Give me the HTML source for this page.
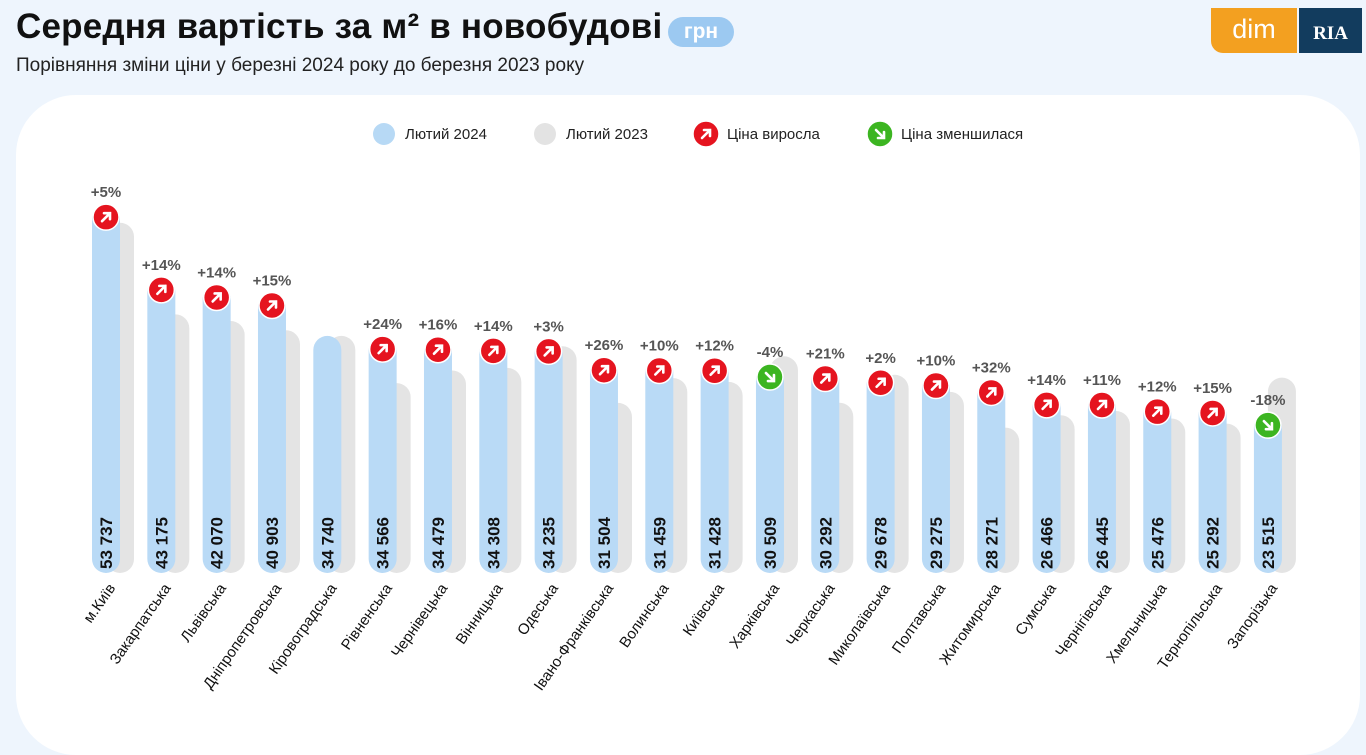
<!DOCTYPE html>
<html><head><meta charset="utf-8"><style>
body{margin:0;width:1366px;height:731px;overflow:hidden;background:#eef5fd;font-family:"Liberation Sans","DejaVu Sans",sans-serif;position:relative}
.t{position:absolute;left:16px;top:7px;font-size:35px;font-weight:bold;color:#111;letter-spacing:0.2px}
.s{position:absolute;left:16px;top:55px;font-size:19px;color:#222}
.u{position:absolute;left:668px;top:17px;width:66px;height:30px;border-radius:15px;background:#9cc9f1;color:#fff;font-weight:bold;font-size:21px;text-align:center;line-height:30px}
.card{position:absolute;left:16px;top:95px;width:1344px;height:660px;background:#fff;border-radius:60px}
.dim{position:absolute;left:1211px;top:8px;width:86px;height:45px;background:#f3a020;border-bottom-left-radius:12px;color:#fff;font-size:27px;text-align:center;line-height:42px}
.ria{position:absolute;left:1299px;top:8px;width:63px;height:45px;background:#123c5e;color:#fff;font-family:"Liberation Serif",serif;font-weight:bold;font-size:19px;text-align:center;line-height:52px}
</style></head><body>
<div class="t">Середня вартість за м² в новобудові</div>
<div class="u">грн</div>
<div class="s">Порівняння зміни ціни у березні 2024 року до березня 2023 року</div>
<div class="dim">dim</div>
<div class="ria">RIA</div>
<div class="card"></div>
<svg id="c" width="1366" height="731" style="position:absolute;left:0;top:0"></svg>
<script>
const categories=["м.Київ","Закарпатська","Львівська","Дніпропетровська","Кіровоградська","Рівненська","Чернівецька","Вінницька","Одеська","Івано-Франківська","Волинська","Київська","Харківська","Черкаська","Миколаївська","Полтавська","Житомирська","Сумська","Чернігівська","Хмельницька","Тернопільська","Запорізька"];
const values2024=[53737,43175,42070,40903,34740,34566,34479,34308,34235,31504,31459,31428,30509,30292,29678,29275,28271,26466,26445,25476,25292,23515];
const values2023=[51178,37873,36904,35568,34740,27876,29723,30095,33238,25003,28599,28061,31780,25035,29096,26614,21418,23216,23824,22746,21993,28677];
const changeLabels=["+5%","+14%","+14%","+15%","","+24%","+16%","+14%","+3%","+26%","+10%","+12%","-4%","+21%","+2%","+10%","+32%","+14%","+11%","+12%","+15%","-18%"];
const valueLabels=["53 737","43 175","42 070","40 903","34 740","34 566","34 479","34 308","34 235","31 504","31 459","31 428","30 509","30 292","29 678","29 275","28 271","26 466","26 445","25 476","25 292","23 515"];
const legendLabels=["Лютий 2024","Лютий 2023","Ціна виросла","Ціна зменшилася"];
const NS="http://www.w3.org/2000/svg",svg=document.getElementById('c');
function mk(t,a,p){const e=document.createElementNS(NS,t);for(const k in a)e.setAttribute(k,a[k]);(p||svg).appendChild(e);return e;}
const x=i=>106+i*55.33, y=v=>587-v*0.006882, bottom=573, w=28;
function bar(cx,top,fill){const r=14;mk('path',{d:`M${cx-r},${bottom-r} L${cx-r},${top+r} A${r},${r} 0 0 1 ${cx+r},${top+r} L${cx+r},${bottom-r} A${r},${r} 0 0 1 ${cx-r},${bottom-r} Z`,fill:fill});}
function icon(cx,cy,up){const g=mk('g',{});


mk('circle',{cx:cx,cy:cy,r:13,fill:up?'#e5141f':'#3cb521',stroke:'#fff','stroke-width':1.5},g);
const d=up?`M${cx-4},${cy+4} L${cx+4},${cy-4} M${cx-2},${cy-4} L${cx+4},${cy-4} L${cx+4},${cy+2}`:`M${cx-4},${cy-4} L${cx+4},${cy+4} M${cx-2},${cy+4} L${cx+4},${cy+4} L${cx+4},${cy-2}`;
mk('path',{d:d,stroke:'#fff','stroke-width':2.6,fill:'none','stroke-linecap':'round'},g);}
const lx=[384,545,706,880];
legendLabels.forEach((l,i)=>{const g=mk('g',{});


if(i<2)mk('circle',{cx:lx[i],cy:134,r:11,fill:i==0?'#b7d9f5':'#e3e3e3'},g);else icon(lx[i],134,i==2);
const t=mk('text',{x:lx[i]+21,y:139,'font-size':15,fill:'#222'},g);t.textContent=l;});
categories.forEach((c,i)=>{const cx=x(i);
bar(cx+14,y(values2023[i])-12,'#e4e4e4');


bar(cx,y(values2024[i])-12,'#b9daf6');


const vt=mk('text',{x:0,y:0,transform:`translate(${cx+6},${bottom-4}) rotate(-90)`,'font-size':17,'font-weight':'bold',fill:'#111'});vt.textContent=valueLabels[i];


if(changeLabels[i]){const cy=y(values2024[i]);icon(cx,cy,changeLabels[i][0]=='+');
const pt=mk('text',{x:cx,y:cy-20,'text-anchor':'middle','font-size':15,'font-weight':'bold',fill:'#555'});pt.textContent=changeLabels[i];

}
const ct=mk('text',{x:0,y:0,transform:`translate(${cx+10},${588}) rotate(-55)`,'text-anchor':'end','font-size':15,fill:'#111'});ct.textContent=c;

});
</script>
</body></html>
